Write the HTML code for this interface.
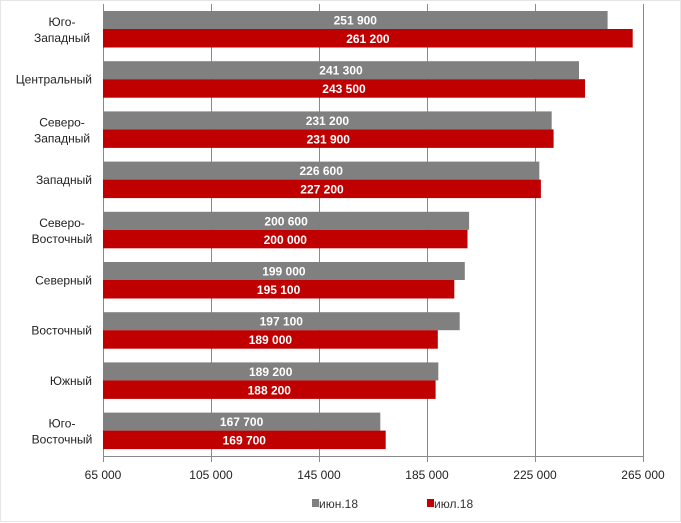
<!DOCTYPE html>
<html><head><meta charset="utf-8"><style>
html,body{margin:0;padding:0;background:#fff;}
svg{display:block;font-family:"Liberation Sans",sans-serif;}
.g{fill:#808080}.r{fill:#c00000}
.v{font-size:12px;font-weight:bold;fill:#fff;text-anchor:middle}
.c{font-size:12px;fill:#222;text-anchor:middle}
.e{font-size:12px;fill:#222;text-anchor:end}
</style></head><body>
<svg width="681" height="523" viewBox="0 0 681 523">
<rect x="0.5" y="0.5" width="680" height="521" fill="#fff" stroke="#e6e6e6"/>
<g stroke="#8a8a8a" stroke-width="1">
<line x1="103.5" y1="4" x2="103.5" y2="462"/>
<line x1="211.5" y1="4" x2="211.5" y2="462"/>
<line x1="319.5" y1="4" x2="319.5" y2="462"/>
<line x1="427.5" y1="4" x2="427.5" y2="462"/>
<line x1="535.5" y1="4" x2="535.5" y2="462"/>
<line x1="643.5" y1="4" x2="643.5" y2="462"/>
<line x1="103" y1="456.5" x2="644" y2="456.5"/>
</g>

<rect class="g" x="103" y="11" width="504.6" height="18"/>
<rect class="r" x="103" y="29" width="529.7" height="18.5"/>
<text class="v" x="355.3" y="24.5">251 900</text>
<text class="v" x="367.9" y="43">261 200</text>
<text class="c" x="62" y="26">Юго-</text>
<text class="c" x="62" y="42">Западный</text>

<rect class="g" x="103" y="61.2" width="476" height="18"/>
<rect class="r" x="103" y="79.2" width="482" height="18.5"/>
<text class="v" x="341" y="74.7">241 300</text>
<text class="v" x="344" y="93.2">243 500</text>
<text class="e" x="92" y="83.7">Центральный</text>

<rect class="g" x="103" y="111.4" width="448.7" height="18"/>
<rect class="r" x="103" y="129.4" width="450.6" height="18.5"/>
<text class="v" x="327.4" y="124.9">231 200</text>
<text class="v" x="328.3" y="143.4">231 900</text>
<text class="c" x="62" y="126.4">Северо-</text>
<text class="c" x="62" y="142.4">Западный</text>

<rect class="g" x="103" y="161.6" width="436.3" height="18"/>
<rect class="r" x="103" y="179.6" width="437.9" height="18.5"/>
<text class="v" x="321.2" y="175.1">226 600</text>
<text class="v" x="322" y="193.6">227 200</text>
<text class="e" x="92" y="184.1">Западный</text>

<rect class="g" x="103" y="211.8" width="366.1" height="18"/>
<rect class="r" x="103" y="229.8" width="364.5" height="18.5"/>
<text class="v" x="286.1" y="225.3">200 600</text>
<text class="v" x="285.3" y="243.8">200 000</text>
<text class="c" x="62" y="226.8">Северо-</text>
<text class="c" x="62" y="242.8">Восточный</text>

<rect class="g" x="103" y="262" width="361.8" height="18"/>
<rect class="r" x="103" y="280" width="351.3" height="18.5"/>
<text class="v" x="283.9" y="275.5">199 000</text>
<text class="v" x="278.6" y="294">195 100</text>
<text class="e" x="92" y="284.5">Северный</text>

<rect class="g" x="103" y="312.2" width="356.7" height="18"/>
<rect class="r" x="103" y="330.2" width="334.8" height="18.5"/>
<text class="v" x="281.3" y="325.7">197 100</text>
<text class="v" x="270.4" y="344.2">189 000</text>
<text class="e" x="92" y="334.7">Восточный</text>

<rect class="g" x="103" y="362.4" width="335.3" height="18"/>
<rect class="r" x="103" y="380.4" width="332.6" height="18.5"/>
<text class="v" x="270.7" y="375.9">189 200</text>
<text class="v" x="269.3" y="394.4">188 200</text>
<text class="e" x="92" y="384.9">Южный</text>

<rect class="g" x="103" y="412.6" width="277.3" height="18"/>
<rect class="r" x="103" y="430.6" width="282.7" height="18.5"/>
<text class="v" x="241.6" y="426.1">167 700</text>
<text class="v" x="244.3" y="444.6">169 700</text>
<text class="c" x="62" y="427.6">Юго-</text>
<text class="c" x="62" y="443.6">Восточный</text>

<g font-size="12" fill="#222" text-anchor="middle">
<text x="103" y="479">65 000</text>
<text x="211" y="479">105 000</text>
<text x="319" y="479">145 000</text>
<text x="427" y="479">185 000</text>
<text x="535" y="479">225 000</text>
<text x="643" y="479">265 000</text>
</g>
<rect x="312" y="499" width="7" height="8" fill="#808080"/>
<text x="319" y="508" font-size="12" fill="#333">июн.18</text>
<rect x="427" y="499" width="7" height="8" fill="#c00000"/>
<text x="434" y="508" font-size="12" fill="#333">июл.18</text>
</svg>
</body></html>
